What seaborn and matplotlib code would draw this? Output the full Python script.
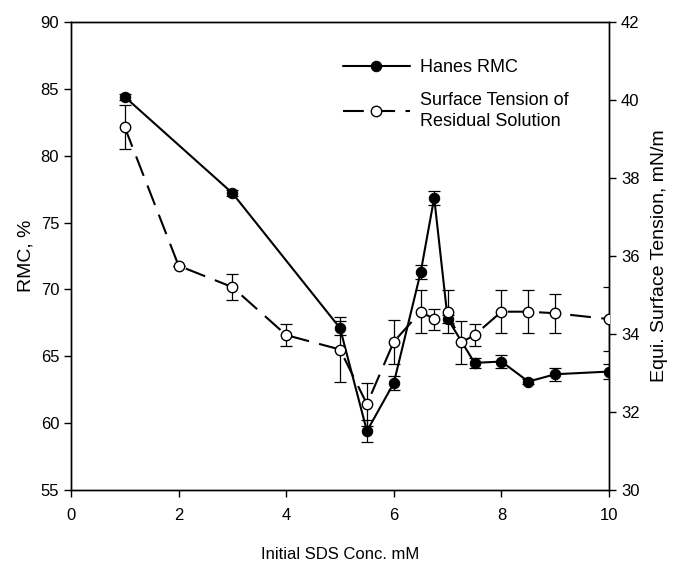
import matplotlib
matplotlib.use("Agg")
import matplotlib.pyplot as plt
import seaborn as sns
import pandas as pd

# Data
rmc_x = [1, 3, 5, 5.5, 6, 6.5, 6.75, 7, 7.5, 8, 8.5, 9, 10]
rmc_y = [84.4, 77.2, 67.1, 59.4, 63.0, 71.3, 76.85, 67.8, 64.5, 64.6, 63.1, 63.65, 63.85]
rmc_err = [0.25, 0.25, 0.55, 0.8, 0.55, 0.55, 0.53, 0.3, 0.4, 0.5, 0.2, 0.5, 0.55]

st_x = [1, 2, 3, 4, 5, 5.5, 6, 6.5, 6.75, 7, 7.25, 7.5, 8, 8.5, 9, 10]
st_y = [39.3, 35.75, 35.2, 33.97, 33.6, 32.2, 33.8, 34.57, 34.38, 34.57, 33.78, 33.97, 34.57, 34.57, 34.53, 34.38]
st_err = [0.56, 0.0, 0.34, 0.28, 0.84, 0.55, 0.56, 0.55, 0.27, 0.55, 0.56, 0.28, 0.55, 0.55, 0.5, 0.83]

x_ticks = [0, 2, 4, 6, 8, 10]
left_ticks = [55, 60, 65, 70, 75, 80, 85, 90]
right_ticks = [30, 32, 34, 36, 38, 40, 42]

sns.set_style("ticks")
plt.rcParams['font.family'] = ['Liberation Sans', 'DejaVu Sans']
plt.rcParams['text.color'] = 'black'
plt.rcParams['axes.labelcolor'] = 'black'

fig = plt.figure(figsize=(6.76, 5.65), dpi=100)
ax = fig.add_axes([0.105, 0.133, 0.796, 0.828])
ax2 = ax.twinx()

df_rmc = pd.DataFrame({"x": rmc_x, "y": rmc_y})
df_st = pd.DataFrame({"x": st_x, "y": st_y})

ax.errorbar(rmc_x, rmc_y, yerr=rmc_err, fmt='none', ecolor='black',
            elinewidth=0.9, capsize=4.5, capthick=0.9, zorder=2)
sns.lineplot(data=df_rmc, x="x", y="y", ax=ax, color='black', linewidth=1.5,
             marker='o', markersize=7.5, markerfacecolor='black',
             markeredgecolor='black', label='Hanes RMC', legend=False,
             zorder=3, sort=False)

ax2.errorbar(st_x, st_y, yerr=st_err, fmt='none', ecolor='black',
             elinewidth=0.9, capsize=4.5, capthick=0.9, zorder=2)
sns.lineplot(data=df_st, x="x", y="y", ax=ax2, color='black', linewidth=1.5,
             marker='o', markersize=7.5, markerfacecolor='white',
             markeredgecolor='black', markeredgewidth=1.0,
             dashes=False, label='Surface Tension of\nResidual Solution',
             legend=False, zorder=3, sort=False)
ax2.lines[-1].set_dashes((10, 5))

ax.set_xlim(0, 10)
ax.set_ylim(55, 90)
ax2.set_ylim(30, 42)
ax.set_xticks(x_ticks)
ax.set_yticks(left_ticks)
ax2.set_yticks(right_ticks)

ax.set_xlabel("Initial SDS Conc. mM", fontsize=12, labelpad=17)
ax.set_ylabel("RMC, %", fontsize=14, labelpad=4)
ax2.set_ylabel("Equi. Surface Tension, mN/m", fontsize=14, labelpad=8)

for a in (ax, ax2):
    a.tick_params(direction='out', length=5, width=1, labelsize=12,
                  colors='black', labelcolor='black')
    for s in a.spines.values():
        s.set_visible(True)
        s.set_linewidth(1.0)
        s.set_color('black')
ax.tick_params(axis='x', pad=8)

h1, l1 = ax.get_legend_handles_labels()
h2, l2 = ax2.get_legend_handles_labels()
leg = ax2.legend(h1 + h2, l1 + l2, loc='upper left', bbox_to_anchor=(0.475, 0.955),
                 frameon=False, fontsize=13, handlelength=3.7, handletextpad=0.6,
                 labelspacing=0.85)
for t in leg.get_texts():
    t.set_linespacing(1.3)

fig.savefig("out.png", dpi=100)
